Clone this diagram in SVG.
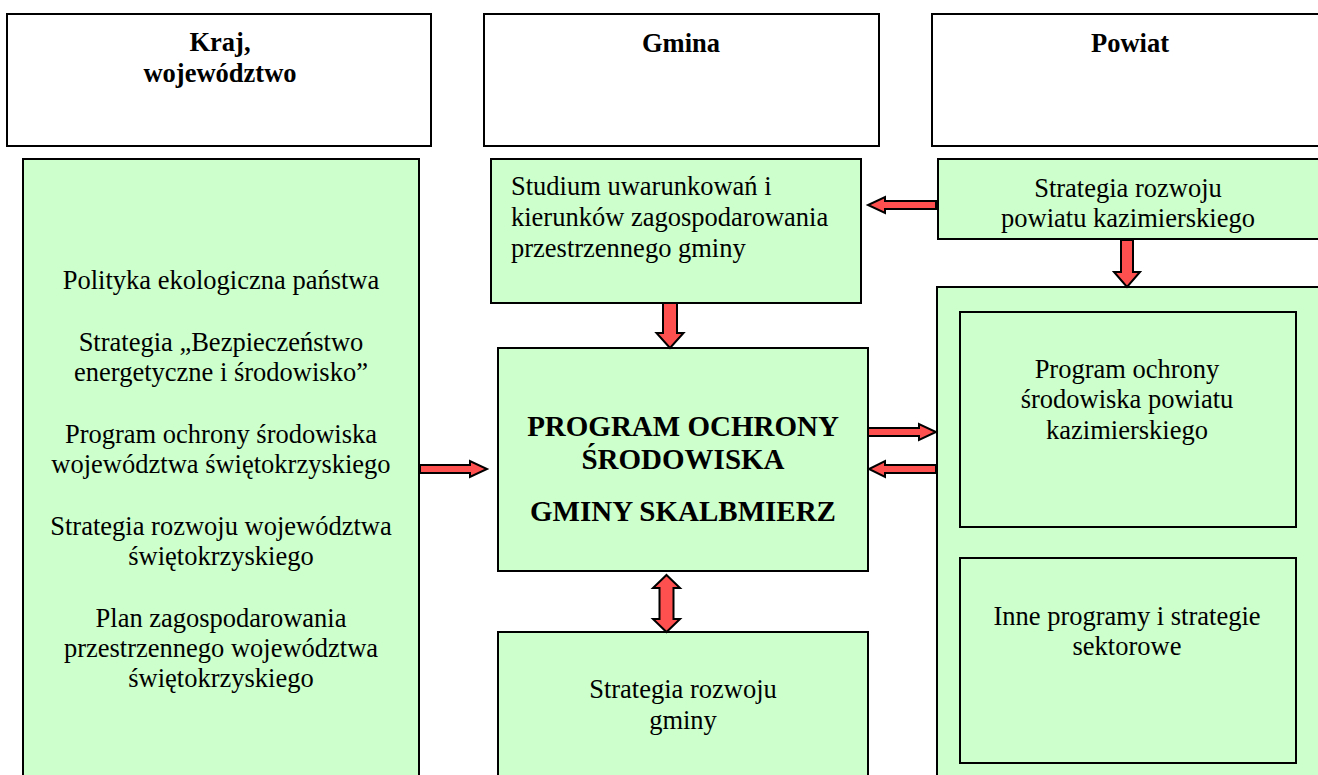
<svg xmlns="http://www.w3.org/2000/svg" width="1318" height="775" viewBox="0 0 1318 775" font-family="'Liberation Serif', 'Times New Roman', Times, serif">
<style>
.hdr{fill:#ffffff;stroke:#000;stroke-width:2}
.box{fill:#ccffcc;stroke:#000;stroke-width:2}
.arr{fill:#ff5050;stroke:#000;stroke-width:2;stroke-linejoin:miter}
.t{font-family:'Liberation Serif','Times New Roman',Times,serif;font-size:26.5px;fill:#000}
.b{font-weight:bold}
.c{text-anchor:middle}
.big{font-size:29px;font-weight:bold}
</style>
<rect width="1318" height="775" fill="#fff"/>
<g id="hdr-kraj"><rect class="hdr" x="7" y="14" width="424" height="132"/>
<text class="t b c" x="220" y="51">Kraj,</text><text class="t b c" x="220" y="82">województwo</text></g>
<g id="hdr-gmina"><rect class="hdr" x="484" y="14" width="395" height="132"/>
<text class="t b c" x="681" y="52">Gmina</text></g>
<g id="hdr-powiat"><rect class="hdr" x="932" y="14" width="396" height="132"/>
<text class="t b c" x="1130" y="52">Powiat</text></g>
<g id="kraj-docs"><rect class="box" x="23" y="159" width="396" height="630"/>
<text class="t c" x="221" y="289">Polityka ekologiczna państwa</text>
<text class="t c" x="221" y="351">Strategia „Bezpieczeństwo</text>
<text class="t c" x="221" y="381">energetyczne i środowisko”</text>
<text class="t c" x="221" y="443">Program ochrony środowiska</text>
<text class="t c" x="221" y="473">województwa świętokrzyskiego</text>
<text class="t c" x="221" y="535">Strategia rozwoju województwa</text>
<text class="t c" x="221" y="565">świętokrzyskiego</text>
<text class="t c" x="221" y="627">Plan zagospodarowania</text>
<text class="t c" x="221" y="657">przestrzennego województwa</text>
<text class="t c" x="221" y="687">świętokrzyskiego</text></g>
<g id="studium"><rect class="box" x="491" y="159" width="370" height="144"/>
<text class="t" x="511" y="195">Studium uwarunkowań i</text>
<text class="t" x="511" y="226">kierunków zagospodarowania</text>
<text class="t" x="511" y="257">przestrzennego gminy</text></g>
<g id="strategia-powiatu"><rect class="box" x="938" y="159" width="390" height="80"/>
<text class="t c" x="1128" y="197">Strategia rozwoju</text>
<text class="t c" x="1128" y="227">powiatu kazimierskiego</text></g>
<g id="program"><rect class="box" x="498" y="348" width="370" height="223"/>
<text class="t big c" x="683" y="436">PROGRAM OCHRONY</text>
<text class="t big c" x="683" y="469">ŚRODOWISKA</text>
<text class="t big c" x="683" y="521">GMINY SKALBMIERZ</text></g>
<g id="strategia-gminy"><rect class="box" x="498" y="632" width="370" height="160"/>
<text class="t c" x="683" y="698">Strategia rozwoju</text>
<text class="t c" x="683" y="729">gminy</text></g>
<g id="powiat-docs"><rect class="box" x="937" y="287" width="390" height="500"/></g>
<g id="program-powiatu"><rect class="box" x="960" y="312" width="336" height="215"/>
<text class="t c" x="1127" y="378">Program ochrony</text>
<text class="t c" x="1127" y="408">środowiska powiatu</text>
<text class="t c" x="1127" y="439">kazimierskiego</text></g>
<g id="inne"><rect class="box" x="960" y="558" width="336" height="205"/>
<text class="t c" x="1127" y="625">Inne programy i strategie</text>
<text class="t c" x="1127" y="655">sektorowe</text></g>
<g id="connectors">
<polygon class="arr" points="936,201 885,201 885,197 868,205 885,213 885,209 936,209"/>
<polygon class="arr" points="663,303 677,303 677,333 683.5,333 670,348 656.5,333 663,333"/>
<polygon class="arr" points="1121,240 1133,240 1133,272 1140,272 1127,287 1114,272 1121,272"/>
<polygon class="arr" points="420,465 470,465 470,461 487,469 470,477 470,473 420,473"/>
<polygon class="arr" points="868,428 919,428 919,424 936,432 919,440 919,436 868,436"/>
<polygon class="arr" points="936,465 885,465 885,461 869,469 885,477 885,473 936,473"/>
<polygon class="arr" points="666.5,575 680,588 673.5,588 673.5,619 680,619 666.5,632 653,619 659.5,619 659.5,588 653,588"/>
</g>
</svg>
